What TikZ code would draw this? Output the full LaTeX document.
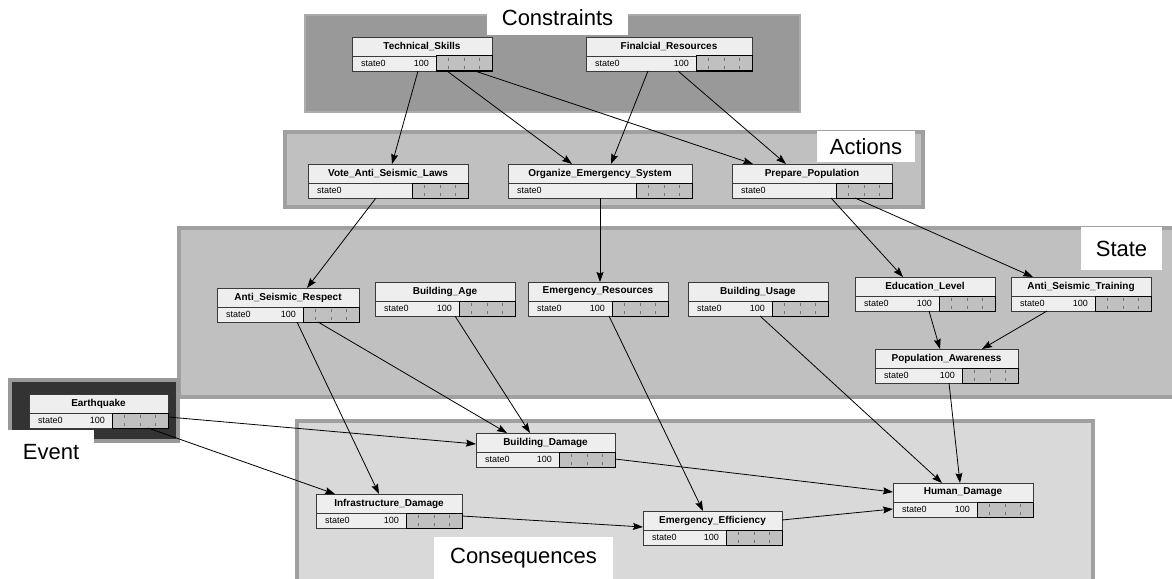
\documentclass[tikz,border=0pt]{standalone}
\usepackage{fontspec}
\setmainfont{Liberation Sans}
\usetikzlibrary{arrows.meta,calc}
\definecolor{consfill}{HTML}{999999}
\definecolor{consline}{HTML}{ABABAB}
\definecolor{midfill}{HTML}{C0C0C0}
\definecolor{midline}{HTML}{A0A0A0}
\definecolor{lowfill}{HTML}{D9D9D9}
\definecolor{evfill}{HTML}{333333}
\definecolor{nodebg}{HTML}{EEEEEE}
\definecolor{barfill}{HTML}{C0C0C0}
\definecolor{nodeline}{HTML}{3A3A3A}
\tikzset{
  grpcons/.style={fill=consfill, draw=consline, line width=2pt},
  grpmid/.style={fill=midfill, draw=midline, line width=4pt},
  grplow/.style={fill=lowfill, draw=midline, line width=4pt},
  grpev/.style={fill=evfill, draw=consfill, line width=4pt},
  grplabel/.style={fill=white, inner sep=0pt, font=\fontsize{22}{24}\selectfont},
  bnbox/.style={draw=nodeline, fill=nodebg, line width=0.8pt, inner sep=0pt, minimum height=34pt},
  bnsep/.style={draw=nodeline, line width=0.6pt},
  bnbar/.style={fill=barfill, draw=black, line width=1pt},
  bntick/.style={draw=black!55, line width=0.5pt},
  bntitle/.style={inner sep=0pt, font=\bfseries\fontsize{10}{12}\selectfont},
  bnstate/.style={inner sep=0pt, font=\fontsize{9}{11}\selectfont},
  arr/.style={draw=black, line width=0.8pt, -{Stealth[length=10pt,width=7pt,inset=1.5pt]}}
}
\newcommand{\bnetnode}[6]{%
  \node[bnbox, minimum width=#4pt, anchor=north west] (#1) at (#2,#3) {};
  \draw[bnsep] (#2,#3+19) -- (#2+#4,#3+19);
  \draw[bnbar] (#2+#4-56,#3+19) rectangle (#2+#4,#3+34);
  \foreach \f in {0.22,0.5,0.78} {
    \draw[bntick] (#2+#4-56+56*\f,#3+21) -- ++(0,3);
    \draw[bntick] (#2+#4-56+56*\f,#3+29) -- ++(0,3);
  }
  \node[bntitle] (#1-t) at (#2+#4/2,#3+9.5) {#5};
  \node[bnstate, anchor=west] (#1-s) at (#2+9,#3+26.5) {state0};
  \if\relax\detokenize{#6}\relax\else
    \node[bnstate, anchor=east] (#1-v) at (#2+#4-63,#3+26.5) {#6};
  \fi
}
\begin{document}
\begin{tikzpicture}[x=1pt,y=-1pt]
\useasboundingbox (0,0) rectangle (1172,578);
% groups
\draw[grpcons] (305,15) rectangle (800,112);
\draw[grpmid] (285,132) rectangle (923,207);
\draw[grpmid] (179,228) rectangle (1185,397);
\draw[grpev] (10,380) rectangle (178,441);
\draw[grplow] (297,421) rectangle (1093,595);
% group labels
\node[grplabel, minimum width=141pt, minimum height=35pt] (lcons) at (557.5,17.5) {Constraints};
\node[grplabel, minimum width=98pt, minimum height=31pt] (lact) at (866,146.5) {Actions};
\node[grplabel, minimum width=81pt, minimum height=43pt] (lstate) at (1121.5,248.5) {State};
\node[grplabel, minimum width=86pt, minimum height=44pt] (levent) at (51,452) {Event};
\node[grplabel, minimum width=179pt, minimum height=42pt] (lcons2) at (523.5,558) {Consequences};
% nodes
\bnetnode{TS}{352}{37}{140}{Technical\_Skills}{100}
\bnetnode{FR}{586}{37}{166}{Finalcial\_Resources}{100}
\bnetnode{VA}{308}{164}{160}{Vote\_Anti\_Seismic\_Laws}{}
\bnetnode{OE}{508}{164}{184}{Organize\_Emergency\_System}{}
\bnetnode{PP}{732}{164}{160}{Prepare\_Population}{}
\bnetnode{AR}{217}{288}{142}{Anti\_Seismic\_Respect}{100}
\bnetnode{BA}{375}{282}{140}{Building\_Age}{100}
\bnetnode{ER}{528}{282}{140}{Emergency\_Resources}{100}
\bnetnode{BU}{688}{282}{140}{Building\_Usage}{100}
\bnetnode{EL}{855}{277}{140}{Education\_Level}{100}
\bnetnode{AT}{1011}{277}{140}{Anti\_Seismic\_Training}{100}
\bnetnode{PA}{875}{349}{143}{Population\_Awareness}{100}
\bnetnode{EQ}{29}{394}{139}{Earthquake}{100}
\bnetnode{BD}{476}{433}{139}{Building\_Damage}{100}
\bnetnode{ID}{316}{494}{146}{Infrastructure\_Damage}{100}
\bnetnode{EE}{643}{511}{139}{Emergency\_Efficiency}{100}
\bnetnode{HD}{893}{483}{140}{Human\_Damage}{100}
% edges
\draw[arr] ($(TS.north west)+(66,34)$) -- ($(VA.north west)+(84,0)$);
\draw[arr] ($(TS.north west)+(95,34)$) -- ($(OE.north west)+(64,0)$);
\draw[arr] ($(TS.north west)+(123,34)$) -- ($(PP.north west)+(21,0)$);
\draw[arr] ($(FR.north west)+(62,34)$) -- ($(OE.north west)+(103,0)$);
\draw[arr] ($(FR.north west)+(92,34)$) -- ($(PP.north west)+(54,0)$);
\draw[arr] ($(VA.north west)+(68,34)$) -- ($(AR.north west)+(90,0)$);
\draw[arr] ($(OE.north west)+(92,34)$) -- ($(ER.north west)+(72,0)$);
\draw[arr] ($(PP.north west)+(99,34)$) -- ($(EL.north west)+(48,0)$);
\draw[arr] ($(PP.north west)+(123,34)$) -- ($(AT.north west)+(22,0)$);
\draw[arr] ($(EL.north west)+(74,34)$) -- ($(PA.north west)+(65,0)$);
\draw[arr] ($(AT.north west)+(36,34)$) -- ($(PA.north west)+(107,0)$);
\draw[arr] ($(AR.north west)+(80,34)$) -- ($(ID.north west)+(63,0)$);
\draw[arr] ($(AR.north west)+(101,34)$) -- ($(BD.north west)+(31,0)$);
\draw[arr] ($(BA.north west)+(80,34)$) -- ($(BD.north west)+(54,0)$);
\draw[arr] ($(ER.north west)+(81,34)$) -- ($(EE.north west)+(60,0)$);
\draw[arr] ($(BU.north west)+(72,34)$) -- ($(HD.north west)+(49,0)$);
\draw[arr] ($(PA.north west)+(74,34)$) -- ($(HD.north west)+(67,0)$);
\draw[arr] ($(EQ.north west)+(139,23)$) -- ($(BD.north west)+(0,11)$);
\draw[arr] ($(EQ.north west)+(119,34)$) -- ($(ID.north west)+(19,0)$);
\draw[arr] ($(BD.north west)+(139,26)$) -- ($(HD.north west)+(0,9)$);
\draw[arr] ($(ID.north west)+(146,22)$) -- ($(EE.north west)+(0,16)$);
\draw[arr] ($(EE.north west)+(139,9)$) -- ($(HD.north west)+(0,26)$);
\end{tikzpicture}
\end{document}
